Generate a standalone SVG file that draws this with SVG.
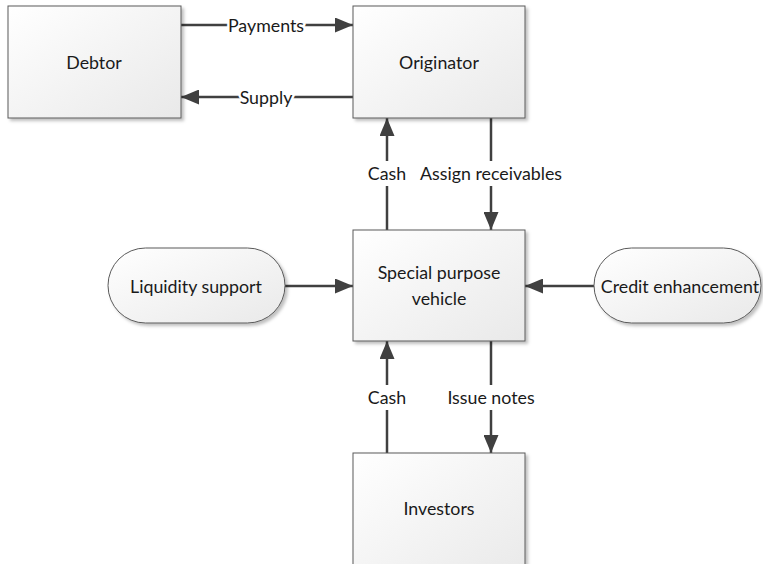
<svg xmlns="http://www.w3.org/2000/svg" width="763" height="564" viewBox="0 0 763 564">
<defs>
<linearGradient id="g" x1="0" y1="0" x2="1" y2="1">
<stop offset="0" stop-color="#ffffff"/>
<stop offset="1" stop-color="#e9e9e9"/>
</linearGradient>
<filter id="sh" x="-10%" y="-10%" width="125%" height="125%">
<feDropShadow dx="2.5" dy="2.5" stdDeviation="1.5" flood-color="#000" flood-opacity="0.25"/>
</filter>
<marker id="ah" markerUnits="userSpaceOnUse" markerWidth="18" markerHeight="15" refX="18" refY="7.5" orient="auto">
<path d="M0,0 L18,7.5 L0,15 Z" fill="#404040"/>
</marker>
</defs>
<style>
.box{fill:url(#g);stroke:#5a5a5a;stroke-width:1;filter:url(#sh)}
.t{font-family:Lato,"Liberation Sans",sans-serif;font-size:17.8px;fill:#1a1a1a;text-anchor:middle;dominant-baseline:central}
.ln{fill:none;stroke:#404040;stroke-width:2.5;marker-end:url(#ah)}
.gap{fill:#fff}
.lb{font-family:Lato,"Liberation Sans",sans-serif;font-size:17.8px;fill:#1a1a1a;text-anchor:middle;dominant-baseline:central;stroke:#fff;stroke-width:5;paint-order:stroke;stroke-linejoin:round}
</style>
<rect width="763" height="564" fill="#fff"/>
<g id="connectors">
<path class="ln" d="M181,25 L353,25"/>
<path class="ln" d="M353,97 L181,97"/>
<path class="ln" d="M387,230 L387,118"/>
<path class="ln" d="M491,118 L491,230"/>
<path class="ln" d="M285,286 L353,286"/>
<path class="ln" d="M594,286 L525,286"/>
<path class="ln" d="M387,453 L387,341"/>
<path class="ln" d="M491,341 L491,453"/>
<rect class="gap" x="380" y="161" width="14" height="25"/>
<rect class="gap" x="484" y="161" width="14" height="25"/>
<rect class="gap" x="380" y="385" width="14" height="25"/>
<rect class="gap" x="484" y="385" width="14" height="25"/>
<text class="lb" x="266" y="25">Payments</text>
<text class="lb" x="266" y="97">Supply</text>
<text class="lb" x="387" y="173">Cash</text>
<text class="lb" x="491" y="173">Assign receivables</text>
<text class="lb" x="387" y="397">Cash</text>
<text class="lb" x="491" y="397">Issue notes</text>
</g>
<g id="debtor">
<rect class="box" x="8" y="6" width="173" height="112"/>
<text class="t" x="94" y="62">Debtor</text>
</g>
<g id="originator">
<rect class="box" x="353" y="6" width="172" height="112"/>
<text class="t" x="439" y="62">Originator</text>
</g>
<g id="spv">
<rect class="box" x="353" y="230" width="172" height="111"/>
<text class="t" x="439" y="272">Special purpose</text>
<text class="t" x="439" y="298">vehicle</text>
</g>
<g id="liquidity">
<rect class="box" x="108" y="248" width="177" height="75" rx="37.5" ry="37.5"/>
<text class="t" x="196" y="286">Liquidity support</text>
</g>
<g id="credit">
<rect class="box" x="594" y="248" width="167" height="75" rx="37.5" ry="37.5"/>
<text class="t" x="680" y="286">Credit enhancement</text>
</g>
<g id="investors">
<rect class="box" x="353" y="453" width="172" height="125"/>
<text class="t" x="439" y="508">Investors</text>
</g>
</svg>
